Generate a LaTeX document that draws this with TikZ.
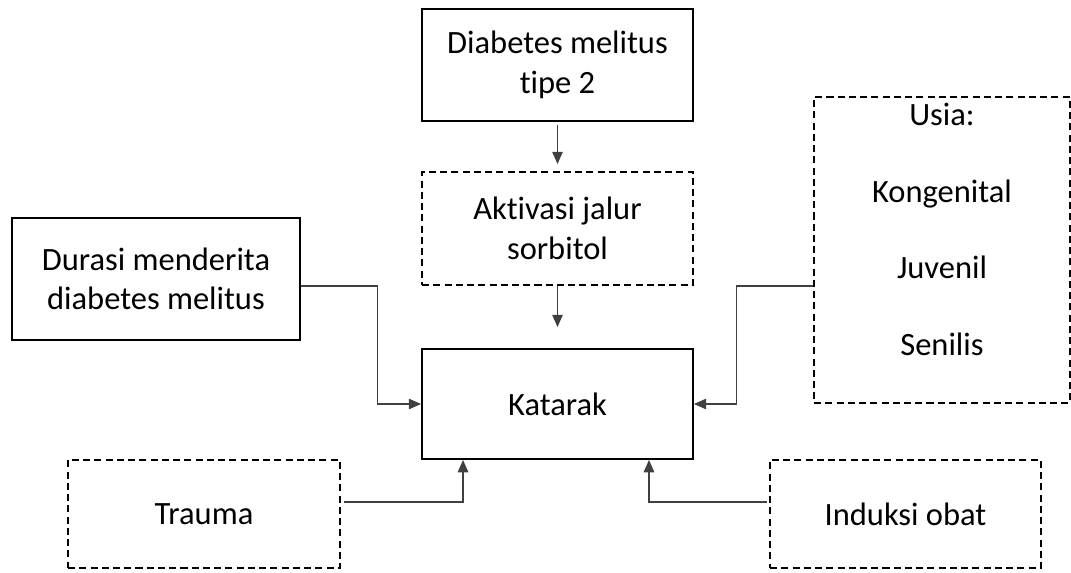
\documentclass[tikz,border=0pt]{standalone}
\usepackage{fontspec}
\setmainfont[Ligatures=NoCommon]{Carlito}
\usetikzlibrary{arrows.meta}

\def\boxw{5.42cm}
\def\gap{21pt}

\begin{document}
\begin{tikzpicture}[x=0.02cm, y=-0.02cm,
    every node/.style={font=\fontsize{18.5}{22.5}\selectfont},
    sbox/.style={draw, line width=1.1pt, minimum width=\boxw, align=center, inner sep=0pt},
    dbox/.style={sbox, dash pattern=on 4pt off 2.4pt},
    conn/.style={draw=black!75, line width=0.6pt, -{Triangle[length=7pt,width=6pt]}}]
      \useasboundingbox (0,0) rectangle (1071,572);
      \node[sbox, minimum height=2.24cm] (diab) at (557.5,65) {Diabetes melitus\\tipe 2};
      \node[dbox, minimum height=2.26cm] (aktiv) at (557.5,228.5) {Aktivasi jalur\\sorbitol};
      \node[sbox, minimum width=5.76cm, minimum height=2.44cm] (durasi) at (156,279) {Durasi menderita\\diabetes melitus};
      \node[sbox, minimum height=2.2cm] (katarak) at (557.5,404) {Katarak};
      \node[dbox, minimum width=5.12cm, minimum height=6.12cm] (usia) at (942,250) {};
      \node[anchor=north, align=center, inner sep=0pt] (usiatext) at ([yshift=-0.14cm]usia.north)
        {Usia:\\[\gap]Kongenital\\[\gap]Juvenil\\[\gap]Senilis};
      \node[dbox, minimum width=5.44cm, minimum height=2.16cm] (trauma) at (204,514) {Trauma};
      \node[dbox, minimum height=2.16cm] (induksi) at (905.5,514) {Induksi obat};
      \draw[conn, shorten <=2pt, shorten >=0.14cm] (diab.south) -- (aktiv.north);
      \draw[conn, shorten >=0.42cm] (aktiv.south) -- (katarak.north);
      \draw[conn] ([yshift=-0.14cm]durasi.east) -| ([xshift=-0.88cm]katarak.west) -- (katarak.west);
      \draw[conn] ([yshift=-0.72cm]usia.west) -| ([xshift=0.86cm]katarak.east) -- (katarak.east);
      \draw[conn] ([xshift=0.06cm,yshift=0.24cm]trauma.east) -| ([xshift=-1.89cm]katarak.south);
      \draw[conn] ([xshift=-0.04cm,yshift=0.24cm]induksi.west) -| ([xshift=1.83cm]katarak.south);
    \end{tikzpicture}
\end{document}
